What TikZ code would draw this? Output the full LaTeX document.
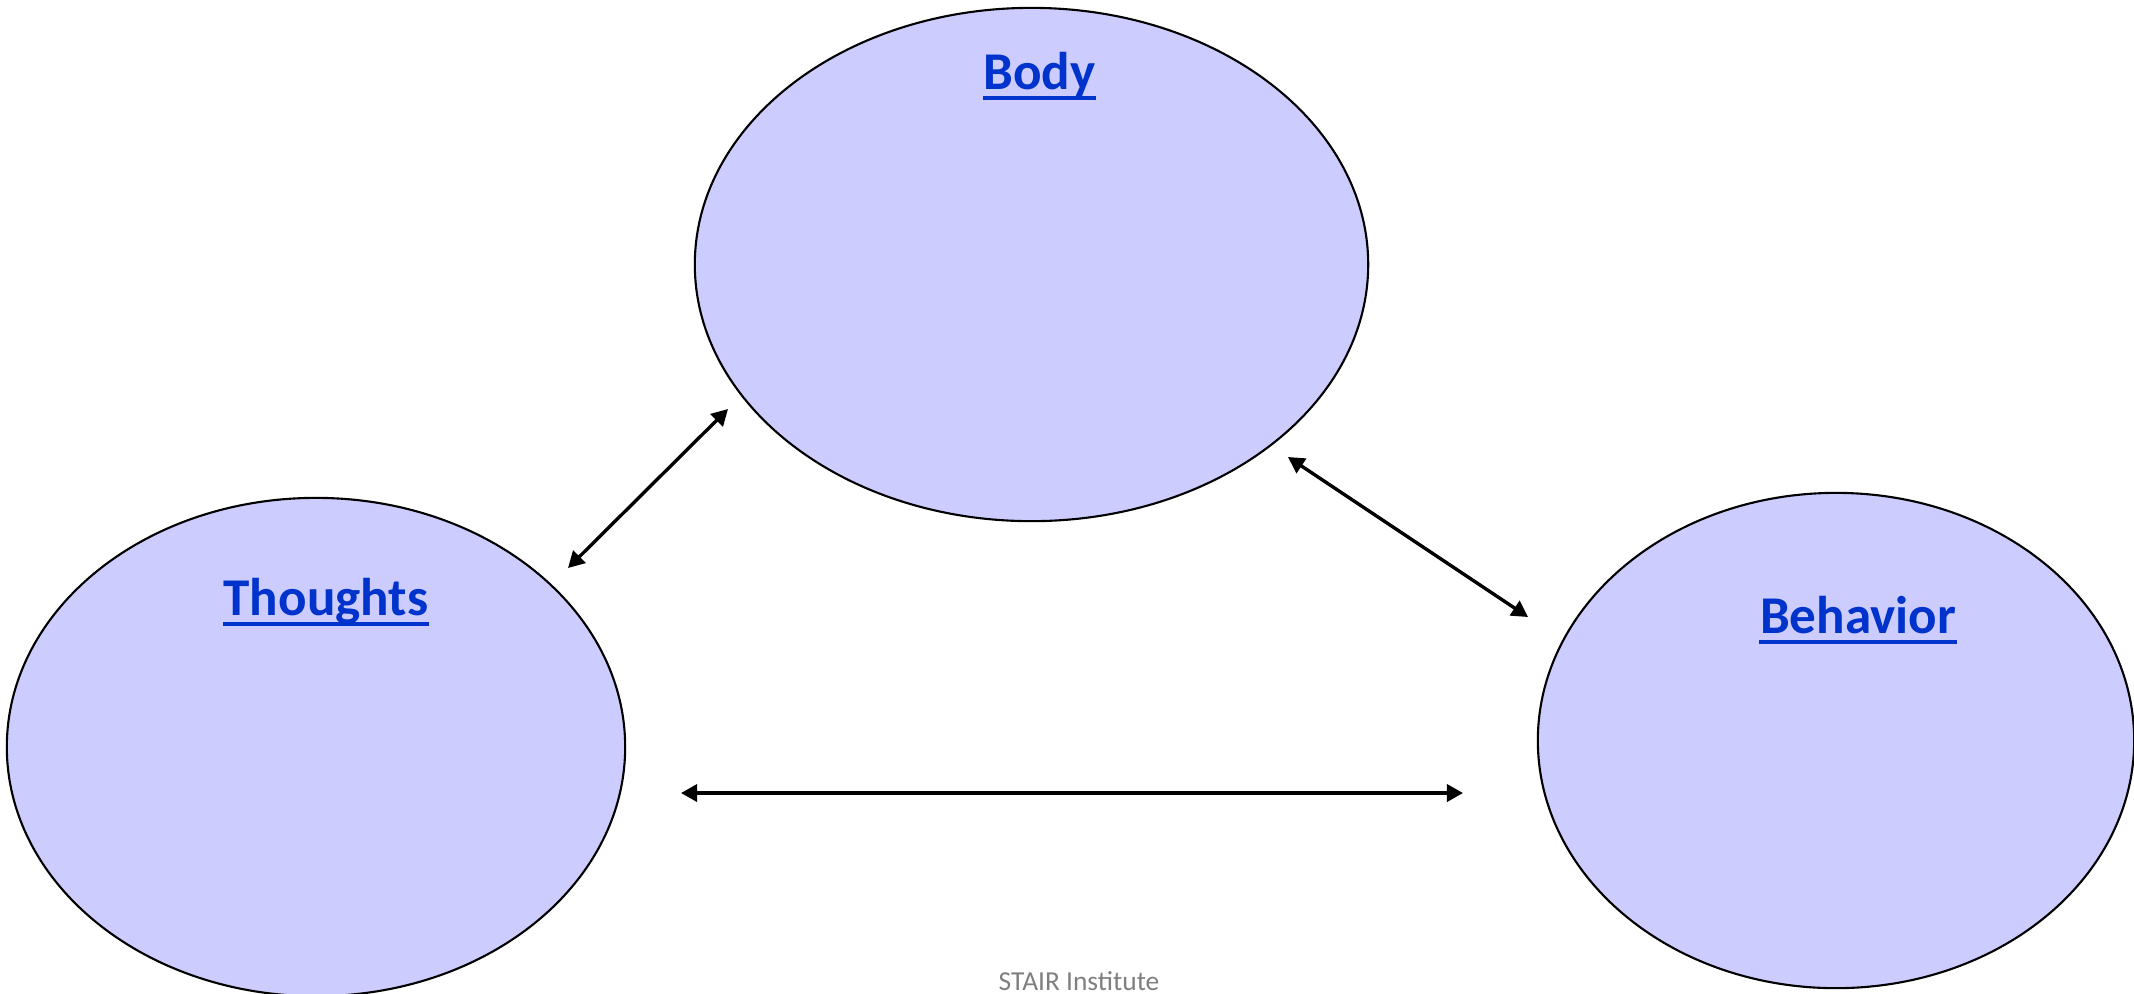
\documentclass[tikz,border=0pt]{standalone}
\usepackage{fontspec}
\usepackage{xcolor}
\usetikzlibrary{arrows.meta,shapes.geometric}
\newfontfamily\calibri{Carlito}
\definecolor{bubblefill}{HTML}{CCCCFF}
\definecolor{headblue}{HTML}{0033CC}
\definecolor{footgray}{HTML}{7F7F7F}

\begin{document}
\begin{tikzpicture}[x=0.01cm,y=-0.01cm]
        \tikzset{bubble/.append style={ellipse,
                    draw=black, fill=bubblefill,
                    line width=0.6pt, inner sep=0pt},
                 head/.append style={inner sep=0pt, anchor=base,
                    text=headblue, font=\calibri\bfseries\fontsize{15.1pt}{18pt}\selectfont},
                 link/.append style={line width=0.95pt,
                    {Triangle[length=4.6pt,width=4.9pt]}-{Triangle[length=4.6pt,width=4.9pt]}}}
        \useasboundingbox (0,0) rectangle (2134,993);
        \node[bubble, minimum width=6.73cm, minimum height=5.13cm] (body) at (1031.5,264.5) {};
        \node[bubble, minimum width=6.18cm, minimum height=4.98cm] (thoughts) at (316,747) {};
        \node[bubble, minimum width=5.96cm, minimum height=4.95cm] (behavior) at (1836,740.5) {};
        \node[head] (bodyhead) at (1039.5,89) {Body};
        \node[head] (thoughtshead) at (326,615) {Thoughts};
        \node[head] (behaviorhead) at (1858,633) {Behavior};
        \foreach \n in {bodyhead,thoughtshead,behaviorhead}
            \draw[headblue, line width=0.97pt] ([yshift=-0.09cm]\n.base west) -- ([yshift=-0.09cm]\n.base east);
        % arrow ends
        \coordinate (thoughtsup) at (568,568);
        \coordinate (bodyleft) at (728,409);
        \coordinate (bodyright) at (1288,457);
        \coordinate (behaviorup) at (1528,617);
        \coordinate (thoughtsright) at (681,793);
        \coordinate (behaviorleft) at (1463,793);
        \draw[link] (thoughtsup) -- (bodyleft);
        \draw[link] (bodyright) -- (behaviorup);
        \draw[link] (thoughtsright) -- (behaviorleft);
        \node[inner sep=0pt, anchor=base, text=footgray, font=\calibri\fontsize{7.8pt}{9pt}\selectfont] (footer) at (1079,990) {STAIR Institute};
    \end{tikzpicture}
\end{document}
